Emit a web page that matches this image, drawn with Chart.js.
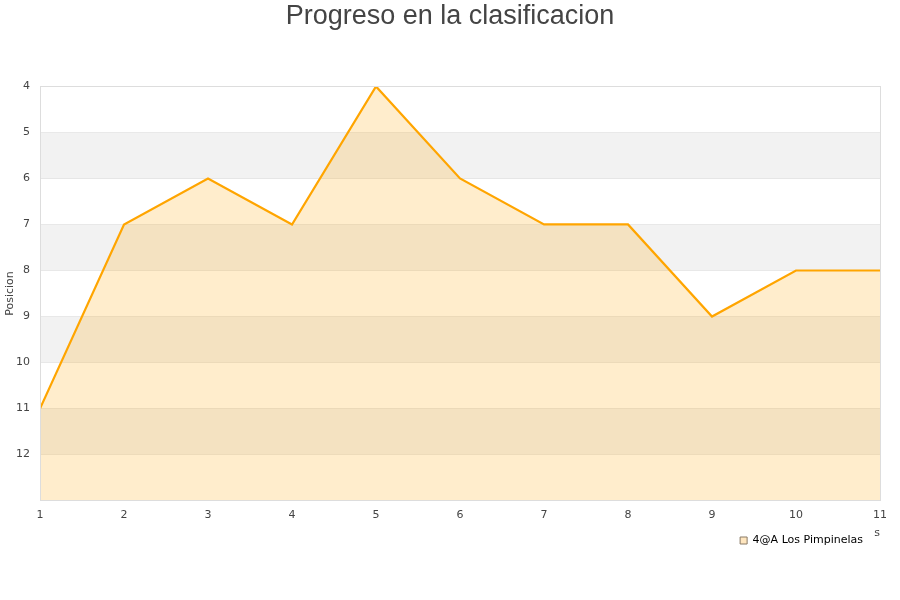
<!DOCTYPE html>
<html><head><meta charset="utf-8">
<script src="https://cdn.jsdelivr.net/npm/chart.js@4/dist/chart.umd.min.js"></script>
<style>html,body{margin:0;padding:0;background:#fff}#wrap{width:900px;height:600px}</style>
</head><body><div id="wrap"><canvas id="c" width="900" height="600"></canvas></div>
<script>
const jornadas = [1,2,3,4,5,6,7,8,9,10,11];
const posiciones = [11,7,6,7,4,6,7,7,9,8,8];
const seriesName = '4@A Los Pimpinelas';
const chartTitle = 'Progreso en la clasificacion';
const yTitle = 'Posicion';
const xTitle = 's';
const yMin = 4, yMax = 13;

const bandPlugin = {
  id: 'bands',
  beforeDatasetsDraw(chart) {
    const {ctx, chartArea: a, scales: {y}} = chart;
    ctx.save();
    ctx.fillStyle = '#f2f2f2';
    for (let v = 5; v < yMax; v += 2) {
      const t = y.getPixelForValue(v), b = y.getPixelForValue(v + 1);
      ctx.fillRect(a.left, t, a.right - a.left, b - t);
    }
    ctx.restore();
  },
  afterDraw(chart) {
    const {ctx, chartArea: a} = chart;
    ctx.save();
    ctx.strokeStyle = '#dddddd';
    ctx.lineWidth = 1;
    ctx.strokeRect(Math.round(a.left) + 0.5, Math.round(a.top) + 0.5, Math.round(a.right - a.left), Math.round(a.bottom - a.top));
    ctx.restore();
  }
};

new Chart(document.getElementById('c'), {
  type: 'line',
  data: {
    datasets: [{
      label: seriesName,
      data: jornadas.map((x, i) => ({x: x, y: posiciones[i]})),
      borderColor: '#ffa500',
      backgroundColor: 'rgba(255,165,0,0.2)',
      borderWidth: 2.2,
      pointRadius: 0,
      tension: 0,
      fill: {value: yMax}
    }]
  },
  options: {
    responsive: false,
    animation: false,
    layout: {padding: {left: 0, right: 0, top: 0, bottom: 44}},
    plugins: {
      title: {display: true, text: chartTitle, color: '#444444',
        font: {family: 'Liberation Sans', size: 27, weight: 'normal'},
        padding: {top: 0, bottom: 54}},
      legend: {position: 'bottom', align: 'end', fullSize: false,
        labels: {boxWidth: 7, boxHeight: 7, padding: 17, color: '#000', font: {family: 'DejaVu Sans', size: 11},
          generateLabels: chart => chart.data.datasets.map((ds, i) => ({
            text: ds.label, fillStyle: '#ffe6bf', strokeStyle: '#8a7a66', lineWidth: 1,
            hidden: false, datasetIndex: i, fontColor: '#000'
          }))}},
      tooltip: {enabled: false}
    },
    scales: {
      x: {type: 'linear', min: 1, max: 11,
        ticks: {stepSize: 1, color: '#444', font: {family: 'DejaVu Sans', size: 11}, padding: 8},
        grid: {display: false, drawTicks: false},
        border: {display: false},
        title: {display: true, text: xTitle, align: 'end', color: '#444', font: {family: 'DejaVu Sans', size: 11}, padding: {top: -3, bottom: -22}}
      },
      y: {reverse: true, min: yMin, max: yMax,
        afterFit: s => { s.width = 40; },
        ticks: {stepSize: 1, color: '#444', font: {family: 'DejaVu Sans', size: 11}, padding: 10,
          callback: v => v === yMax ? '' : v},
        grid: {color: '#dddddd', drawTicks: false},
        border: {display: false},
        title: {display: true, text: yTitle, color: '#444', font: {family: 'DejaVu Sans', size: 11}, padding: {top: 4, bottom: 0}}
      },
      yr: {position: 'right', reverse: true, min: yMin, max: yMax,
        afterFit: s => { s.width = 20; },
        ticks: {display: false},
        grid: {display: false, drawTicks: false},
        border: {display: false}
      }
    }
  },
  plugins: [bandPlugin]
});
</script></body></html>
